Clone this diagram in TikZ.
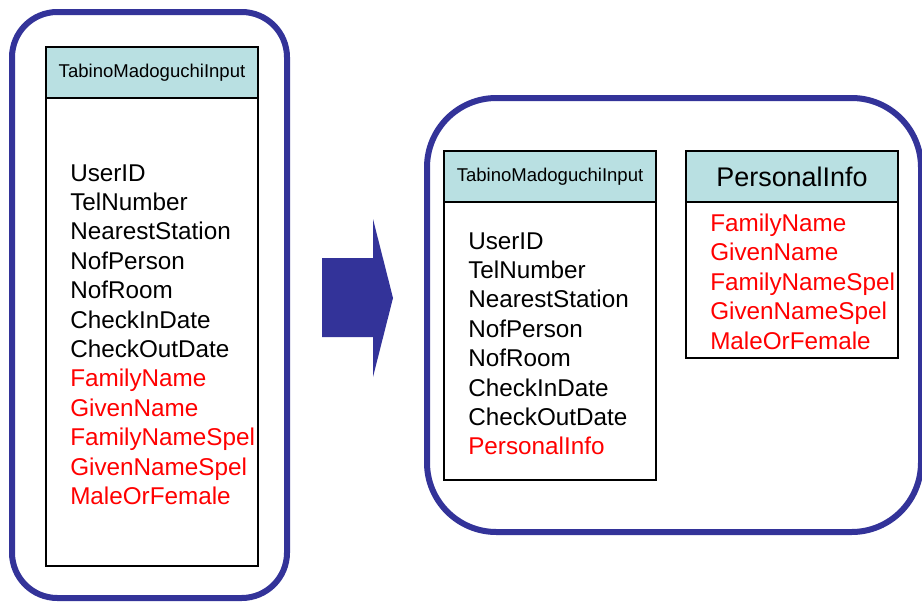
\documentclass[tikz,border=0pt]{standalone}
\usepackage{fontspec}
\setmainfont{Liberation Sans}
\usepackage{tikz}
\usetikzlibrary{positioning}
\usepackage{xcolor}
\definecolor{frameblue}{RGB}{51,51,153}
\definecolor{headteal}{RGB}{185,224,226}

\begin{document}
\begin{tikzpicture}[
    x=0.75pt, y=-0.75pt,
    frame/.style={draw=frameblue, line width=4.5pt},
    head/.style={rectangle, draw, line width=1.4pt, fill=headteal, inner sep=0pt,
    outer sep=0pt, minimum width=159pt, minimum height=38.25pt},
    body/.style={rectangle, draw, line width=1.4pt, inner sep=0pt, outer sep=0pt,
    minimum width=159pt},
    field/.style={anchor=base west, inner sep=0pt, font=\fontsize{18.2}{22}\selectfont},
]
\useasboundingbox (0,0) rectangle (922,603);
\clip (0,0) rectangle (922,603);

% before
\draw[frame, rounded corners=34pt] (12,12) rectangle (287,598);
\node[head, anchor=north west, font=\fontsize{13.9}{16}\selectfont] (oldhead) at (46,47) {TabinoMadoguchiInput};
\node[body, minimum height=351pt, below=0pt of oldhead] (oldbody) {};
\foreach \f/\c [count=\i from 0] in {UserID/black, TelNumber/black, NearestStation/black,
    NofPerson/black, NofRoom/black, CheckInDate/black, CheckOutDate/black,
    FamilyName/red, GivenName/red, FamilyNameSpel/red, GivenNameSpel/red, MaleOrFemale/red}
    \node[field, text=\c] (oldf\i) at (70, 181+29.4*\i) {\f};

% shift
\fill[frameblue] (322,258) -- (373,258) -- (373,219) -- (393,298) -- (373,377)
    -- (373,337) -- (322,337) -- cycle;

% after
\draw[frame, rounded corners=52pt] (427,98) rectangle (921,532);
\node[head, anchor=north west, font=\fontsize{13.9}{16}\selectfont] (newhead) at (444,151) {TabinoMadoguchiInput};
\node[body, minimum height=208.5pt, below=0pt of newhead] (newbody) {};
\foreach \f/\c [count=\i from 0] in {UserID/black, TelNumber/black, NearestStation/black,
    NofPerson/black, NofRoom/black, CheckInDate/black, CheckOutDate/black,
    PersonalInfo/red}
    \node[field, text=\c] (newf\i) at (468, 249+29.4*\i) {\f};

\node[head, anchor=north west, font=\fontsize{20.2}{24}\selectfont] (infohead) at (686,151) {PersonalInfo};
\node[body, minimum height=117pt, below=0pt of infohead] (infobody) {};
\foreach \f [count=\i from 0] in {FamilyName, GivenName, FamilyNameSpel, GivenNameSpel, MaleOrFemale}
    \node[field, text=red] (infof\i) at (710, 231+29.5*\i) {\f};

\end{tikzpicture}
\end{document}
